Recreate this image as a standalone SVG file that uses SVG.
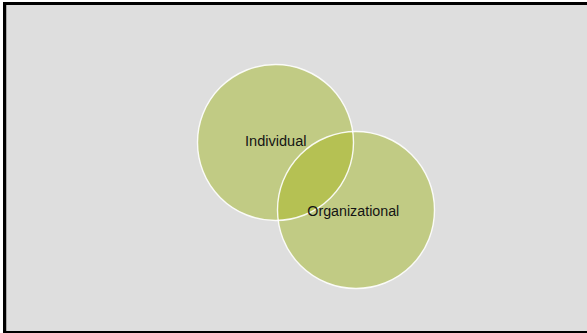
<svg xmlns="http://www.w3.org/2000/svg" width="587" height="333" viewBox="0 0 587 333">
  <style>
    .bubble { fill: #c1cb84; }
    .overlap { fill: #b5c153; }
    .rim { fill: none; stroke: #ffffff; stroke-width: 1.4; stroke-opacity: 0.9; }
    .label { font-family: "Liberation Sans", Arial, sans-serif; font-size: 14px; fill: #141414; }
  </style>
  <defs>
    <clipPath id="clip-individual">
      <circle cx="275.5" cy="142.5" r="78"/>
    </clipPath>
  </defs>

  <!-- slide frame -->
  <rect x="0" y="0" width="587" height="333" fill="#ffffff"/>
  <rect x="3" y="2" width="584" height="331" fill="#000000"/>
  <rect x="6" y="5" width="581" height="326" fill="#a8a8a8"/>
  <rect x="7" y="5" width="580" height="326" fill="#dedede"/>

  <g id="individual">
    <circle class="bubble" cx="275.5" cy="142.5" r="78"/>
  </g>
  <g id="organizational">
    <circle class="bubble" cx="356" cy="210" r="78.5"/>
  </g>
  <g id="intersection">
    <circle class="overlap" cx="356" cy="210" r="78.5" clip-path="url(#clip-individual)"/>
  </g>
  <g id="outlines">
    <circle class="rim" cx="275.5" cy="142.5" r="78"/>
    <circle class="rim" cx="356" cy="210" r="78.5"/>
  </g>
  <g id="labels">
    <text class="label" x="245" y="145.7" textLength="61.5" lengthAdjust="spacingAndGlyphs">Individual</text>
    <text class="label" x="307.3" y="215.7" textLength="92" lengthAdjust="spacingAndGlyphs">Organizational</text>
  </g>
</svg>
